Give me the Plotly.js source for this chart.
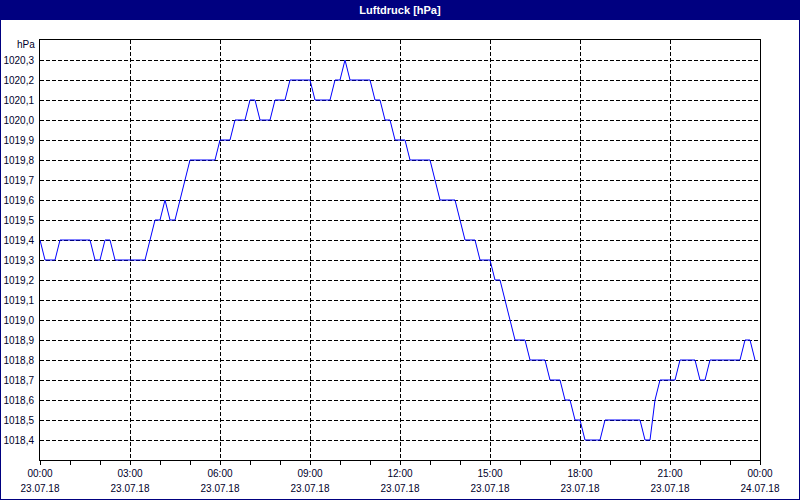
<!DOCTYPE html>
<html>
<head>
<meta charset="utf-8">
<script src="https://cdn.plot.ly/plotly-3.0.1.min.js"></script>
<style>html,body{margin:0;padding:0;background:#fff;}#chart{width:800px;height:500px;}</style>
</head>
<body>
<div id="chart"></div>
<script>
// Pressure readings every 10 minutes, 23.07.18 00:00 .. 23:50
const startDay = '2018-07-23';
const endTime = '2018-07-24 00:00';
const stepMinutes = 10;
const pressure = [
  1019.4, 1019.3, 1019.3, 1019.3, 1019.4, 1019.4, 1019.4, 1019.4, 1019.4, 1019.4,
  1019.4, 1019.3, 1019.3, 1019.4, 1019.4, 1019.3, 1019.3, 1019.3, 1019.3, 1019.3,
  1019.3, 1019.3, 1019.4, 1019.5, 1019.5, 1019.6, 1019.5, 1019.5, 1019.6, 1019.7,
  1019.8, 1019.8, 1019.8, 1019.8, 1019.8, 1019.8, 1019.9, 1019.9, 1019.9, 1020.0,
  1020.0, 1020.0, 1020.1, 1020.1, 1020.0, 1020.0, 1020.0, 1020.1, 1020.1, 1020.1,
  1020.2, 1020.2, 1020.2, 1020.2, 1020.2, 1020.1, 1020.1, 1020.1, 1020.1, 1020.2,
  1020.2, 1020.3, 1020.2, 1020.2, 1020.2, 1020.2, 1020.2, 1020.1, 1020.1, 1020.0,
  1020.0, 1019.9, 1019.9, 1019.9, 1019.8, 1019.8, 1019.8, 1019.8, 1019.8, 1019.7,
  1019.6, 1019.6, 1019.6, 1019.6, 1019.5, 1019.4, 1019.4, 1019.4, 1019.3, 1019.3,
  1019.3, 1019.2, 1019.2, 1019.1, 1019.0, 1018.9, 1018.9, 1018.9, 1018.8, 1018.8,
  1018.8, 1018.8, 1018.7, 1018.7, 1018.7, 1018.6, 1018.6, 1018.5, 1018.5, 1018.4,
  1018.4, 1018.4, 1018.4, 1018.5, 1018.5, 1018.5, 1018.5, 1018.5, 1018.5, 1018.5,
  1018.5, 1018.4, 1018.4, 1018.6, 1018.7, 1018.7, 1018.7, 1018.7, 1018.8, 1018.8,
  1018.8, 1018.8, 1018.7, 1018.7, 1018.8, 1018.8, 1018.8, 1018.8, 1018.8, 1018.8,
  1018.8, 1018.9, 1018.9, 1018.8
];
const yTickVals = [1018.4, 1018.5, 1018.6, 1018.7, 1018.8, 1018.9, 1019.0, 1019.1, 1019.2, 1019.3,
                   1019.4, 1019.5, 1019.6, 1019.7, 1019.8, 1019.9, 1020.0, 1020.1, 1020.2, 1020.3];
const yRange = [1018.3, 1020.4];
const titleText = 'Luftdruck [hPa]';
const unitLabel = 'hPa';
const timeFormat = '%H:%M';
const dateFormat = '%d.%m.%y';

function pad(n){ return (n < 10 ? '0' : '') + n; }
const times = pressure.map((v, i) => {
  const m = i * stepMinutes;
  return startDay + ' ' + pad(Math.floor(m / 60)) + ':' + pad(m % 60);
});

const W = 800, H = 500, L = 40, R = 40, T = 40, B = 40;
const pw = W - L - R, ph = H - T - B;
const px = x => (x - L) / pw;
const py = y => (H - B - y) / ph;

const font = 'Tahoma, "Liberation Sans", Arial, sans-serif';
const navy = '#000080';
const txt = '#00002a';

const trace = {
  x: times, y: pressure, type: 'scatter', mode: 'lines',
  line: {color: '#0000ff', width: 1}, hoverinfo: 'x+y'
};
// invisible helper trace so the date-label axis is drawn
const dateTrace = {
  x: [times[0], times[times.length - 1]], y: [pressure[0], pressure[pressure.length - 1]],
  xaxis: 'x2', type: 'scatter', mode: 'lines', line: {width: 0}, opacity: 0,
  hoverinfo: 'skip', showlegend: false
};

const xCommon = {
  type: 'date',
  range: [startDay + ' 00:00', endTime],
  tick0: startDay + ' 00:00', dtick: 3 * 3600000,
  zeroline: false, fixedrange: true,
  tickfont: {family: font, size: 10, color: txt}
};

const layout = {
  width: W, height: H,
  margin: {l: L, r: R, t: T, b: B, pad: 0},
  paper_bgcolor: '#ffffff', plot_bgcolor: '#ffffff',
  separators: ',.',
  showlegend: false,
  font: {family: font, size: 10, color: txt},
  title: {
    text: '<b>' + titleText + '</b>',
    font: {family: font, size: 11, color: '#ffffff'},
    x: 0.5, xref: 'paper', xanchor: 'center',
    y: 1 - 10 / H, yref: 'container', yanchor: 'middle'
  },
  xaxis: Object.assign({}, xCommon, {
    tickformat: timeFormat,
    ticks: 'outside', ticklen: 4, tickcolor: '#000', tickwidth: 1,
    minor: {dtick: 3600000, ticks: 'outside', ticklen: 4, tickcolor: '#000', showgrid: false},
    showgrid: true, gridcolor: '#000000', gridwidth: 1, griddash: '4px,2px',
    showline: true, linecolor: '#000000', linewidth: 1, mirror: true
  }),
  xaxis2: Object.assign({}, xCommon, {
    tickformat: dateFormat,
    overlaying: 'x', matches: 'x', side: 'bottom', anchor: 'y',
    ticks: '', ticklabelstandoff: 21,
    showgrid: false, showline: false
  }),
  yaxis: {
    range: yRange,
    tickmode: 'array', tickvals: yTickVals,
    tickformat: '.1f',
    ticks: '', ticklabelstandoff: 3,
    showgrid: true, gridcolor: '#000000', gridwidth: 1, griddash: '4px,2px',
    showline: true, linecolor: '#000000', linewidth: 1, mirror: true,
    zeroline: false, fixedrange: true,
    tickfont: {family: font, size: 10, color: txt}
  },
  shapes: [
    {type: 'rect', xref: 'paper', yref: 'paper', layer: 'below',
     x0: px(0), x1: px(W), y0: py(20), y1: py(0),
     fillcolor: navy, line: {width: 0}},
    {type: 'rect', xref: 'paper', yref: 'paper', layer: 'above',
     x0: px(0), x1: px(W), y0: py(H), y1: py(0),
     fillcolor: 'rgba(0,0,0,0)', line: {color: navy, width: 2}}
  ],
  annotations: [
    {text: unitLabel, xref: 'paper', yref: 'paper', x: px(37), y: py(45),
     xanchor: 'right', yanchor: 'middle', showarrow: false,
     font: {family: font, size: 10, color: txt}}
  ]
};

Plotly.newPlot('chart', [trace, dateTrace], layout, {displayModeBar: false, staticPlot: true});
</script>
</body>
</html>
